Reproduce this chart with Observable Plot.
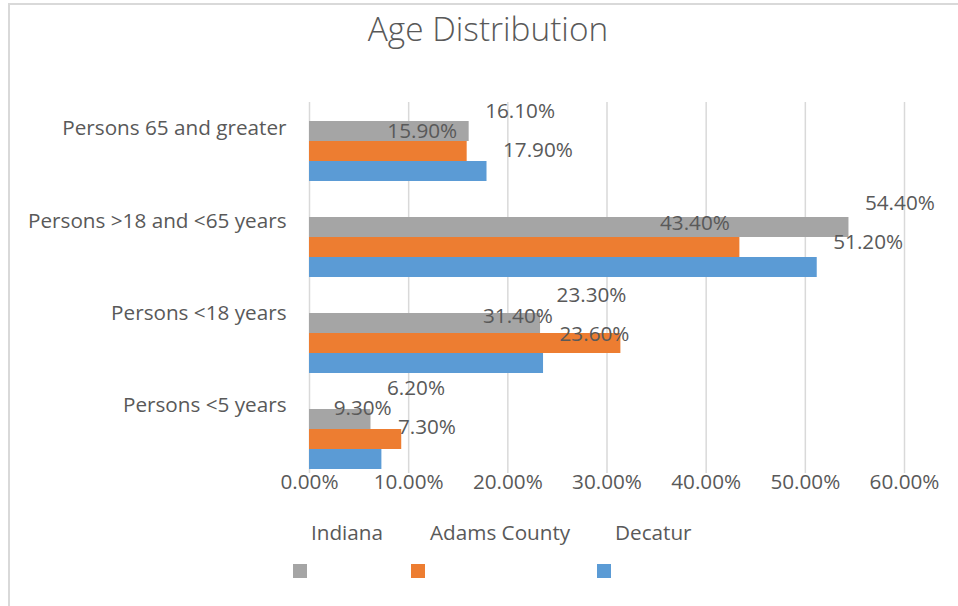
<!DOCTYPE html>
<html>
<head>
<meta charset="utf-8">
<script src="https://cdn.jsdelivr.net/npm/d3@7"></script>
<script src="https://cdn.jsdelivr.net/npm/@observablehq/plot@0.6"></script>
<style>
  html, body { margin: 0; padding: 0; background: #fff; }
  #wrap { position: relative; width: 958px; height: 606px; overflow: hidden; font-family: "Open Sans", sans-serif; color: #595959; background: #fff; }
  #frame { position: absolute; left: 8px; top: 3px; width: 970px; height: 620px; border-top: 2px solid #d9d9d9; border-left: 2px solid #d9d9d9; box-sizing: border-box; }
  #title { position: absolute; left: 0; width: 976px; top: 12px; text-align: center; font-size: 33.4px; line-height: 33.4px; font-weight: 300; white-space: nowrap; }
  .layer { position: absolute; left: 0; top: 0; }
  .leg-label { position: absolute; top: 522px; font-size: 20.7px; line-height: 20.7px; white-space: nowrap; }
  .leg-swatch { position: absolute; top: 564px; width: 14px; height: 14px; }
</style>
</head>
<body>
<div id="wrap">
  <div id="frame"></div>
  <div id="title">Age Distribution</div>
  <div id="bars" class="layer"></div>
  <div id="labels" class="layer"></div>
  <div id="legend"></div>
</div>
<script>
// ---- data ----
const categories = ["Persons 65 and greater", "Persons >18 and <65 years", "Persons <18 years", "Persons <5 years"];
const series = ["Indiana", "Adams County", "Decatur"];
const indiana = [0.161, 0.544, 0.233, 0.062];
const adamsCounty = [0.159, 0.434, 0.314, 0.093];
const decatur = [0.179, 0.512, 0.236, 0.073];
const xTicks = [0, 0.1, 0.2, 0.3, 0.4, 0.5, 0.6];
const colors = ["#a5a5a5", "#ed7d31", "#5b9bd5"];

const seriesValues = [indiana, adamsCounty, decatur];
const data = categories.flatMap((c, i) => series.map((s, j) => ({category: c, series: s, value: seriesValues[j][i]})));
const pct = d3.format(".2%");

const W = 958, H = 606;
const margins = {marginLeft: 309, marginRight: 54, marginTop: 102, marginBottom: 133};
const baseStyle = {fontFamily: "'Open Sans', sans-serif", fontSize: "20.7px", color: "#595959", background: "transparent", overflow: "visible"};

// ---- bars layer (grid, bars, x axis) ----
const barsPlot = Plot.plot({
  width: W, height: H, ...margins,
  style: baseStyle,
  x: {domain: [0, 0.6], ticks: xTicks, tickFormat: pct, tickSize: 0, tickPadding: 1, label: null},
  y: {type: "band", domain: categories, range: [121, 469], paddingInner: 0.375, paddingOuter: 0, round: false, axis: null},
  color: {domain: series, range: colors},
  marks: [
    Plot.ruleX(xTicks, {stroke: "#d9d9d9", strokeWidth: 1.5}),
    Plot.barX(data.filter(d => d.series === series[0]), {x: "value", y: "category", fill: "series", insetBottom: 40}),
    Plot.barX(data.filter(d => d.series === series[1]), {x: "value", y: "category", fill: "series", insetTop: 20, insetBottom: 20}),
    Plot.barX(data.filter(d => d.series === series[2]), {x: "value", y: "category", fill: "series", insetTop: 40})
  ]
});
document.getElementById("bars").appendChild(barsPlot);

// ---- labels layer (category axis, value labels) ----
const labelsPlot = Plot.plot({
  width: W, height: H, ...margins,
  style: baseStyle,
  x: {domain: [0, 0.6], axis: null},
  y: {type: "band", domain: categories, range: [82, 451], padding: 0, round: false, tickSize: 0, tickPadding: 23, label: null},
  marks: [
    Plot.text(data.filter(d => d.series === series[0]), {x: "value", y: "category", text: d => pct(d.value), textAnchor: "start", dx: 16, dy: -17.5, fill: "#595959"}),
    Plot.text(data.filter(d => d.series === series[1] && d.category !== categories[2]), {x: "value", y: "category", text: d => pct(d.value), textAnchor: "end", dx: -10, dy: 2.8, fill: "#595959"}),
    Plot.text(data.filter(d => d.series === series[1] && d.category === categories[2]), {x: "value", y: "category", text: d => pct(d.value), textAnchor: "end", dx: -68, dy: 2.8, fill: "#595959"}),
    Plot.text(data.filter(d => d.series === series[2]), {x: "value", y: "category", text: d => pct(d.value), textAnchor: "start", dx: 16, dy: 21.5, fill: "#595959"})
  ]
});
document.getElementById("labels").appendChild(labelsPlot);

// ---- legend ----
const legend = document.getElementById("legend");
const labelLeft = [311, 430, 615];
const swatchLeft = [293, 411, 597];
series.forEach((s, i) => {
  const t = document.createElement("div");
  t.className = "leg-label";
  t.style.left = labelLeft[i] + "px";
  t.textContent = s;
  legend.appendChild(t);
  const sw = document.createElement("div");
  sw.className = "leg-swatch";
  sw.style.left = swatchLeft[i] + "px";
  sw.style.background = colors[i];
  legend.appendChild(sw);
});
</script>
</body>
</html>
